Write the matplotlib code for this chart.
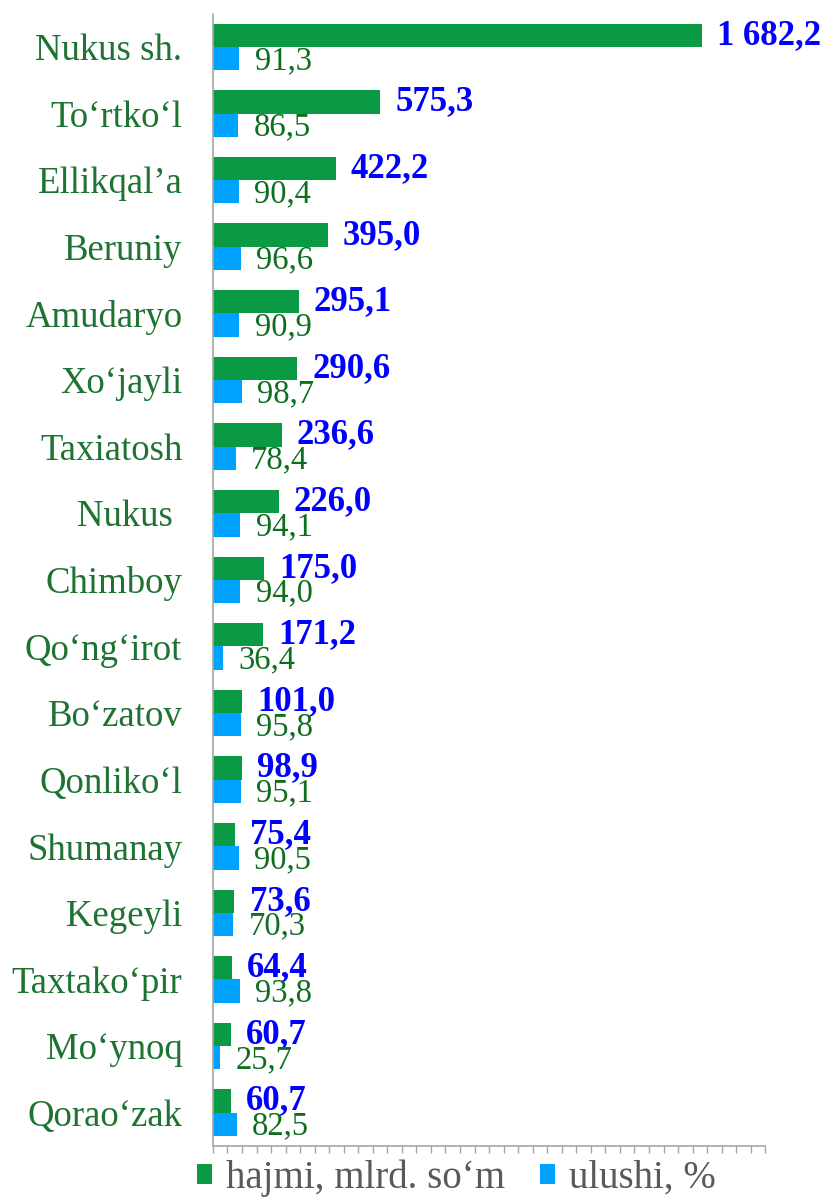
import matplotlib.pyplot as plt
import numpy as np
from matplotlib.ticker import MultipleLocator

districts = ["Nukus sh.", "To‘rtko‘l", "Ellikqal’a", "Beruniy", "Amudaryo", "Xo‘jayli",
             "Taxiatosh", "Nukus ", "Chimboy", "Qo‘ng‘irot", "Bo‘zatov", "Qonliko‘l",
             "Shumanay", "Kegeyli", "Taxtako‘pir", "Mo‘ynoq", "Qorao‘zak"]
hajmi = [1682.2, 575.3, 422.2, 395.0, 295.1, 290.6, 236.6, 226.0, 175.0, 171.2,
         101.0, 98.9, 75.4, 73.6, 64.4, 60.7, 60.7]
ulushi = [91.3, 86.5, 90.4, 96.6, 90.9, 98.7, 78.4, 94.1, 94.0, 36.4,
          95.8, 95.1, 90.5, 70.3, 93.8, 25.7, 82.5]

GREEN = "#0A9A44"
BLUE = "#00A2FF"
LABEL_GREEN = "#1E7333"
VALUE_GREEN = "#0E6E1E"


def fmt(v):
    s = f"{v:,.1f}".replace(",", " ").replace(".", ",")
    return s


plt.rcParams["font.family"] = ["Liberation Serif", "DejaVu Serif"]

fig = plt.figure(figsize=(8.22, 11.97), dpi=100)
ax = fig.add_axes([0.259, 0.0426, 0.672, 0.946])

y = np.arange(len(districts))
h = 0.35
ax.barh(y - h / 2, hajmi, height=h, color=GREEN, label="hajmi, mlrd. so‘m")
ax.barh(y + h / 2, ulushi, height=h, color=BLUE, label="ulushi, %")

for yi, v in zip(y, hajmi):
    ax.annotate(fmt(v), (v, yi - h / 2), xytext=(11, 0), textcoords="offset points",
                ha="left", va="center", fontsize=25, fontweight="bold", color="#0000FF")
for yi, v in zip(y, ulushi):
    ax.annotate(fmt(v), (v, yi + h / 2 + 0.03), xytext=(11, 0), textcoords="offset points",
                ha="left", va="center", fontsize=23.5, color=VALUE_GREEN)

ax.set_yticks(y)
ax.set_yticklabels(districts, fontsize=26.5, color=LABEL_GREEN)
ax.tick_params(axis="y", length=0, pad=22)
ax.set_ylim(len(districts) - 0.5, -0.5)

ax.set_xlim(0, 1900)
ax.xaxis.set_major_locator(MultipleLocator(50))
ax.tick_params(axis="x", direction="out", length=5, width=1, color="#A6A6A6", labelbottom=False)

for side in ["top", "right"]:
    ax.spines[side].set_visible(False)
for side in ["left", "bottom"]:
    ax.spines[side].set_color("#A6A6A6")
    ax.spines[side].set_linewidth(1.2)

fig.legend(loc="center", bbox_to_anchor=(0.555, 0.016), ncol=2, frameon=False,
           fontsize=28, handlelength=0.4, handleheight=0.4, handletextpad=0.35,
           columnspacing=0.9, labelcolor="#595959", borderaxespad=0, borderpad=0)

fig.savefig("out.png", dpi=100)
